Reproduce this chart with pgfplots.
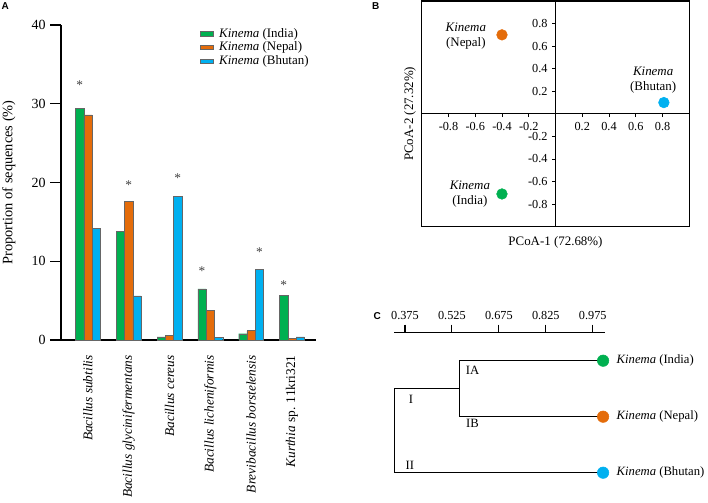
\documentclass[border=0pt]{standalone}
\usepackage{fontspec}
\setmainfont{Liberation Serif}
\setsansfont{Liberation Sans}
\usepackage{pgfplots}
\pgfplotsset{compat=1.18}
\definecolor{cIndia}{HTML}{00B050}
\definecolor{cNepal}{HTML}{E46C0A}
\definecolor{cBhutan}{HTML}{00B0F0}
\pgfplotsset{mybarlegend/.style={legend image code/.code={\draw[##1,draw=black!60,line width=0.3pt] (0pt,-1.6pt) rectangle (9.75pt,1.6pt);}}}
\begin{document}
\begin{tikzpicture}
\path[use as bounding box] (0,0) rectangle (531pt,-377.25pt);
\node[font=\sffamily\bfseries\fontsize{7.5}{9}\selectfont] at (4pt,-4.5pt) {A};
\node[font=\sffamily\bfseries\fontsize{7.5}{9}\selectfont] at (281.8pt,-4.5pt) {B};
\node[font=\sffamily\bfseries\fontsize{7.5}{9}\selectfont] at (283pt,-237pt) {C};

% ---------------- Panel A ----------------
\begin{axis}[at={(45.75pt,-255pt)}, anchor=south west, scale only axis,
  width=191.25pt, height=236.25pt,
  xmin=-0.66, xmax=5.59, ymin=0, ymax=40, enlargelimits=false,
  axis x line*=bottom, axis y line*=left, axis line style={-, line width=0.9pt},
  ybar=0pt, bar width=6.2pt,
  xtick={0,1,2,3,4,5},
  xticklabels={\textit{Bacillus subtilis},\textit{Bacillus glycinifermentans},\textit{Bacillus cereus},\textit{Bacillus licheniformis},\textit{Brevibacillus borstelensis},\textit{Kurthia} sp. 11kri321},
  x tick style={draw=none},
  x tick label style={rotate=90, anchor=east, font=\fontsize{10}{12}\selectfont},
  ytick={0,10,20,30,40},
  y tick style={line width=0.9pt, black},
  tick align=outside, major tick length=8pt,
  y tick label style={font=\fontsize{10.5}{12}\selectfont},
  /pgf/number format/assume math mode=true,
  ylabel={Proportion of sequences (\%)},
  y label style={at={(axis description cs:-0.205,0.5)}, anchor=center, font=\fontsize{10.8}{13}\selectfont},
  legend cell align=left,
  legend style={at={(axis description cs:0.53,1.008)}, anchor=north west, draw=none, fill=none,
    font=\fontsize{9.7}{11}\selectfont, row sep=-2pt,
    /tikz/every odd column/.append style={column sep=2pt}},
  clip=false,
]
\addplot[fill=cIndia, draw=black!60, line width=0.3pt, mybarlegend] coordinates {(0,29.4) (1,13.8) (2,0.4) (3,6.5) (4,0.8) (5,5.7)};
\addlegendentry{\textit{Kinema} (India)}
\addplot[fill=cNepal, draw=black!60, line width=0.3pt, mybarlegend] coordinates {(0,28.6) (1,17.6) (2,0.6) (3,3.8) (4,1.2) (5,0.2)};
\addlegendentry{\textit{Kinema} (Nepal)}
\addplot[fill=cBhutan, draw=black!60, line width=0.3pt, mybarlegend] coordinates {(0,14.2) (1,5.6) (2,18.2) (3,0.3) (4,9.0) (5,0.4)};
\addlegendentry{\textit{Kinema} (Bhutan)}
\node[font=\fontsize{10}{12}\selectfont, text=black!75, yshift=-1.3pt] at (axis cs:-0.203,32.6) {*};
\node[font=\fontsize{10}{12}\selectfont, text=black!75, yshift=-1.3pt] at (axis cs:1,19.9) {*};
\node[font=\fontsize{10}{12}\selectfont, text=black!75, yshift=-1.3pt] at (axis cs:2.203,20.8) {*};
\node[font=\fontsize{10}{12}\selectfont, text=black!75, yshift=-1.3pt] at (axis cs:2.797,9.0) {*};
\node[font=\fontsize{10}{12}\selectfont, text=black!75, yshift=-1.3pt] at (axis cs:4.203,11.4) {*};
\node[font=\fontsize{10}{12}\selectfont, text=black!75, yshift=-1.3pt] at (axis cs:4.797,7.2) {*};
\end{axis}

% ---------------- Panel B ----------------
\begin{axis}[at={(316.275pt,-170.025pt)}, anchor=south west, scale only axis,
  width=200.7pt, height=169.275pt,
  xmin=-1, xmax=1, ymin=-1, ymax=1, enlargelimits=false,
  axis lines=middle, axis line style={-, line width=0.9pt},
  xtick={-0.8,-0.6,-0.4,-0.2,0.2,0.4,0.6,0.8},
  xticklabels={-0.8,-0.6,-0.4,-0.2,0.2,0.4,0.6,0.8},
  ytick={-0.8,-0.6,-0.4,-0.2,0.2,0.4,0.6,0.8},
  yticklabels={-0.8,-0.6,-0.4,-0.2,0.2,0.4,0.6,0.8},
  tick align=outside, major tick length=2.5pt, tick style={black, line width=0.6pt},
  tick label style={font=\fontsize{9.2}{11}\selectfont},
  xlabel={PCoA-1 (72.68\%)}, ylabel={PCoA-2 (27.32\%)},
  x label style={at={(axis description cs:0.5,-0.068)}, anchor=center, font=\fontsize{9.7}{11}\selectfont},
  y label style={at={(axis description cs:-0.0437,0.5)}, anchor=center, rotate=90, font=\fontsize{9.7}{11}\selectfont},
  clip=false,
]
\draw[line width=0.9pt] (rel axis cs:0,0) rectangle (rel axis cs:1,1);
\addplot[only marks, mark=*, mark size=4pt, color=cNepal] coordinates {(-0.4,0.70)};
\addplot[only marks, mark=*, mark size=4pt, color=cIndia] coordinates {(-0.4,-0.71)};
\addplot[only marks, mark=*, mark size=4pt, color=cBhutan] coordinates {(0.81,0.10)};
\node[align=center, font=\fontsize{9.7}{11.3}\selectfont] at (axis cs:-0.67,0.69) {\textit{Kinema}\\(Nepal)};
\node[align=center, font=\fontsize{9.7}{11.3}\selectfont] at (axis cs:-0.64,-0.71) {\textit{Kinema}\\(India)};
\node[align=center, font=\fontsize{9.7}{11.3}\selectfont] at (axis cs:0.73,0.30) {\textit{Kinema}\\(Bhutan)};
\end{axis}

% ---------------- Panel C ----------------
\begin{axis}[at={(295.725pt,-375.525pt)}, anchor=south west, scale only axis,
  width=158pt, height=126pt,
  xmin=0.341, xmax=1.014, ymin=0.5, ymax=3.5, enlargelimits=false,
  axis x line=top, axis y line=none, axis line style={-, line width=0.9pt},
  xtick={0.375,0.525,0.675,0.825,0.975},
  xticklabels={0.375,0.525,0.675,0.825,0.975},
  tick align=outside, major tick length=6pt, tick style={black, line width=0.9pt},
  x tick label style={font=\fontsize{9.2}{11}\selectfont},
  clip=false,
]
\addplot[black, line width=0.9pt, mark=none] coordinates {(1.008,3) (0.549,3) (0.549,2) (1.008,2)};
\addplot[black, line width=0.9pt, mark=none] coordinates {(0.549,2.5) (0.341,2.5) (0.341,1) (1.008,1)};
\addplot[only marks, mark=*, mark size=4.3pt, color=cIndia] coordinates {(1.008,3)};
\addplot[only marks, mark=*, mark size=4.3pt, color=cNepal] coordinates {(1.008,2)};
\addplot[only marks, mark=*, mark size=4.3pt, color=cBhutan] coordinates {(1.008,1)};
\node[anchor=west, xshift=6.7pt, font=\fontsize{9.5}{11}\selectfont] at (axis cs:1.008,3) {\textit{Kinema} (India)};
\node[anchor=west, xshift=6.7pt, font=\fontsize{9.5}{11}\selectfont] at (axis cs:1.008,2) {\textit{Kinema} (Nepal)};
\node[anchor=west, xshift=6.7pt, font=\fontsize{9.5}{11}\selectfont] at (axis cs:1.008,1) {\textit{Kinema} (Bhutan)};
\node[font=\fontsize{9.5}{11}\selectfont] at (axis cs:0.591,2.83) {IA};
\node[font=\fontsize{9.5}{11}\selectfont] at (axis cs:0.591,1.88) {IB};
\node[font=\fontsize{9.5}{11}\selectfont] at (axis cs:0.394,2.31) {I};
\node[font=\fontsize{9.5}{11}\selectfont] at (axis cs:0.391,1.14) {II};
\end{axis}
\end{tikzpicture}
\end{document}
